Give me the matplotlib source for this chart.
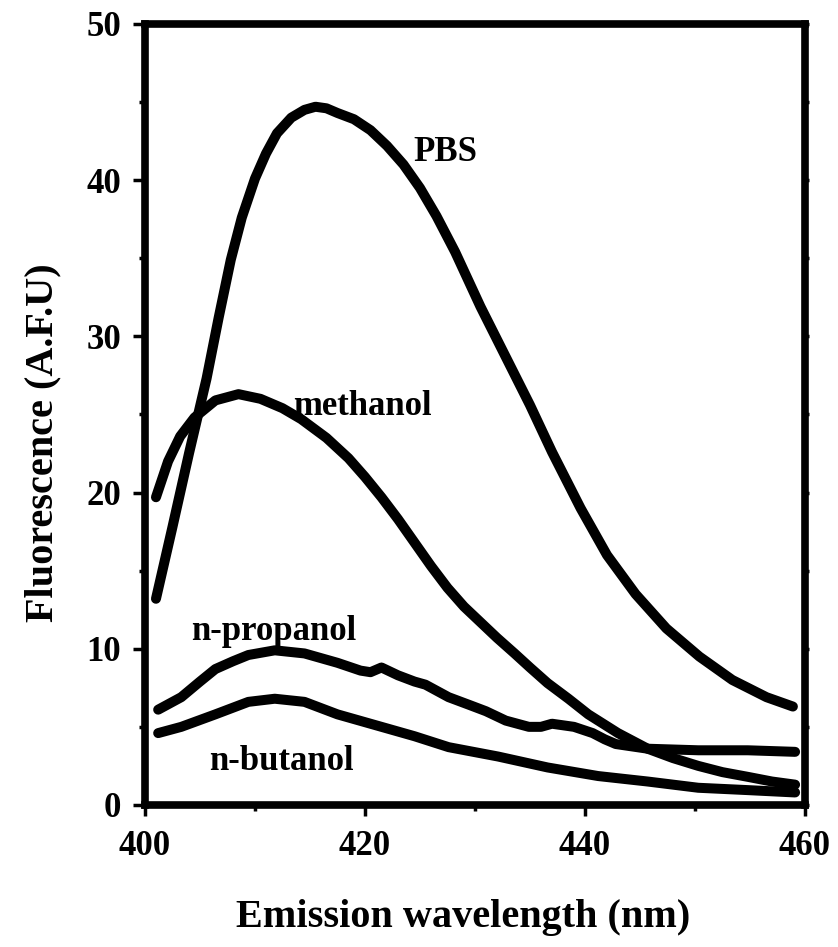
"""
Fluorescence emission spectra of the probe in PBS and in three alcohols.
"""

import matplotlib
matplotlib.use("Agg")
import matplotlib.pyplot as plt
from matplotlib.ticker import MultipleLocator


# emission spectra (wavelength in nm, A.F.U)
pbs_wl = [401.0, 402.5, 404.0, 405.6, 406.7, 407.8, 408.8, 410.0, 411.0, 412.0,
          413.3, 414.5, 415.5, 416.5, 417.5, 419.0, 420.5, 422.0, 423.5, 425.0,
          426.5, 428.2, 430.5, 433.0, 435.0, 437.0, 439.6, 442.0, 444.6, 447.4,
          450.4, 453.4, 456.5, 458.9]
pbs_fl = [13.2, 17.8, 22.5, 27.3, 31.2, 34.9, 37.6, 40.1, 41.7, 43.0,
          44.0, 44.5, 44.7, 44.6, 44.3, 43.9, 43.2, 42.2, 41.0, 39.5,
          37.7, 35.4, 31.9, 28.4, 25.6, 22.6, 19.0, 16.0, 13.5, 11.3,
          9.5, 8.0, 6.9, 6.3]

meth_wl = [401.0, 402.1, 403.2, 404.5, 406.4, 408.5, 410.5, 412.5, 414.2, 416.5,
           418.5, 420.0, 421.5, 423.0, 424.5, 426.0, 427.5, 429.0, 430.5, 432.0,
           433.6, 435.0, 436.6, 438.5, 440.3, 443.0, 445.7, 448.0, 450.3, 452.5,
           454.8, 457.0, 459.1]
meth_fl = [19.7, 22.0, 23.6, 24.8, 25.9, 26.3, 26.0, 25.4, 24.7, 23.5,
           22.2, 21.0, 19.7, 18.3, 16.8, 15.3, 13.9, 12.7, 11.7, 10.7,
           9.7, 8.8, 7.8, 6.8, 5.8, 4.6, 3.6, 3.0, 2.5, 2.1,
           1.8, 1.5, 1.3]

prop_wl = [401.2, 403.3, 405.0, 406.4, 408.0, 409.4, 411.8, 414.5, 416.0, 417.5,
           419.6, 420.5, 421.5, 423.0, 424.5, 425.5, 427.6, 429.5, 431.0, 432.8,
           434.9, 436.0, 437.0, 439.0, 440.7, 441.8, 442.8, 445.7, 450.3, 454.8,
           459.1]
prop_fl = [6.1, 6.9, 7.9, 8.7, 9.2, 9.6, 9.9, 9.7, 9.4, 9.1,
           8.6, 8.5, 8.8, 8.3, 7.9, 7.7, 6.9, 6.4, 6.0, 5.4,
           5.0, 5.0, 5.2, 5.0, 4.6, 4.2, 3.9, 3.6, 3.5, 3.5,
           3.4]

but_wl = [401.2, 403.3, 406.4, 409.4, 411.8, 414.5, 417.5, 420.5, 424.5, 427.6,
          432.1, 436.6, 441.2, 445.7, 450.3, 454.8, 459.1]
but_fl = [4.6, 5.0, 5.8, 6.6, 6.8, 6.6, 5.8, 5.2, 4.4, 3.7,
          3.1, 2.4, 1.85, 1.5, 1.1, 0.95, 0.8]

curve_names = ["PBS", "methanol", "n-propanol", "n-butanol"]
name_pos = [(427.3, 41.8), (419.8, 25.5), (411.7, 11.1), (412.4, 2.8)]

x_ticks = [400, 420, 440, 460]
y_ticks = [0, 10, 20, 30, 40, 50]

FONT = "Liberation Serif"


def main():
    plt.rcParams["font.family"] = [FONT, "DejaVu Serif"]
    plt.rcParams["font.weight"] = "bold"

    fig = plt.figure(figsize=(8.38, 9.47), dpi=100)
    ax = fig.add_axes([0.173, 0.150, 0.7876, 0.8247])

    for wl, fl in [(pbs_wl, pbs_fl), (meth_wl, meth_fl),
                   (prop_wl, prop_fl), (but_wl, but_fl)]:
        ax.plot(wl, fl, color="black", linewidth=7.2,
                solid_capstyle="round", solid_joinstyle="round")

    for name, (x, y) in zip(curve_names, name_pos):
        ax.text(x, y, name, fontsize=25, fontweight="bold",
                ha="center", va="center")

    ax.set_xlim(400, 460)
    ax.set_ylim(0, 50)
    ax.set_xticks(x_ticks)
    ax.set_yticks(y_ticks)
    ax.xaxis.set_minor_locator(MultipleLocator(10))
    ax.yaxis.set_minor_locator(MultipleLocator(5))

    for s in ax.spines.values():
        s.set_linewidth(5.5)

    ax.tick_params(axis="x", which="major", direction="out", length=8,
                   width=2.5, pad=10, labelsize=25)
    ax.tick_params(axis="y", which="major", direction="out", length=9,
                   width=2.5, pad=8, labelsize=25)
    ax.tick_params(axis="both", which="minor", direction="out", length=4,
                   width=2.5)
    for lab in ax.get_xticklabels() + ax.get_yticklabels():
        lab.set_fontweight("bold")

    # tiny tick marks on the right-hand spine
    ax_r = ax.twinx()
    ax_r.set_ylim(0, 50)
    ax_r.yaxis.set_major_locator(MultipleLocator(5))
    ax_r.tick_params(axis="y", direction="out", length=3, width=2.5,
                     labelright=False)
    for s in ax_r.spines.values():
        s.set_visible(False)

    ax.set_xlabel("Emission wavelength (nm)", fontsize=29, fontweight="bold")
    ax.set_ylabel("Fluorescence (A.F.U)", fontsize=29, fontweight="bold")
    ax.xaxis.set_label_coords(0.482, -0.120)
    ax.yaxis.set_label_coords(-0.126, 0.464)

    fig.savefig("out.png", dpi=100)


if __name__ == "__main__":
    main()
